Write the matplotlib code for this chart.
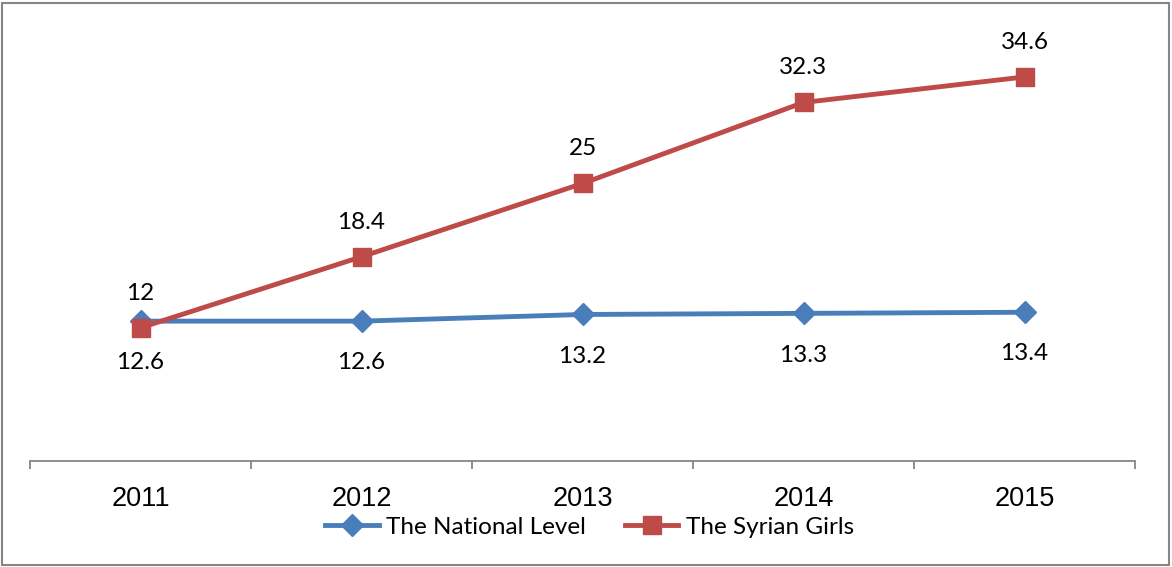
import numpy as np
import matplotlib.pyplot as plt
from matplotlib.patches import Rectangle

years = ['2011', '2012', '2013', '2014', '2015']
national_level = [12.6, 12.6, 13.2, 13.3, 13.4]
syrian_girls = [12, 18.4, 25, 32.3, 34.6]

blue = '#4A7EBB'
red = '#BE4B48'
label_font = 'Lato'

fig = plt.figure(figsize=(11.72, 5.67), dpi=100)
ax = fig.add_axes([30 / 1172, 1 - 461 / 567, 1105 / 1172, 444 / 567])

x = np.arange(len(years))
ax.plot(x, national_level, color=blue, lw=3.5, marker='D', markersize=11,
        label='The National Level', zorder=3)
ax.plot(x, syrian_girls, color=red, lw=3.5, marker='s', markersize=13,
        label='The Syrian Girls', zorder=4)

# value labels: national below the line, syrian above
for xi, v in zip(x, national_level):
    ax.annotate(f'{v:g}', (xi, v), xytext=(0, -30), textcoords='offset points',
                ha='center', va='center', fontsize=17.5, family=label_font)
for xi, v in zip(x, syrian_girls):
    ax.annotate(f'{v:g}', (xi, v), xytext=(0, 25), textcoords='offset points',
                ha='center', va='center', fontsize=17.5, family=label_font)

ax.set_xlim(-0.5, len(years) - 0.5)
ax.set_ylim(0, 40)
ax.set_yticks([])
for side in ['top', 'right', 'left']:
    ax.spines[side].set_visible(False)
ax.spines['bottom'].set_color('#868686')
ax.spines['bottom'].set_linewidth(1.3)

ax.set_xticks(x)
ax.set_xticklabels(years, fontsize=19.5, family='Liberation Sans')
ax.set_xticks(np.arange(-0.5, len(years)), minor=True)
ax.tick_params(axis='x', which='major', length=0, pad=18)
ax.tick_params(axis='x', which='minor', length=6, width=1.3, color='#868686',
               direction='out')

fig.legend(loc='center', bbox_to_anchor=(0.503, 1 - 527 / 567), ncol=2,
           frameon=False, prop={'family': label_font, 'size': 17.5},
           handlelength=2.2, handletextpad=0.3, columnspacing=1.6)

fig.patches.append(Rectangle((2 / 1172, 2 / 567), 1167 / 1172, 562 / 567,
                             transform=fig.transFigure, fill=False,
                             edgecolor='#868686', lw=1.5))

fig.savefig('out.png', dpi=100)
